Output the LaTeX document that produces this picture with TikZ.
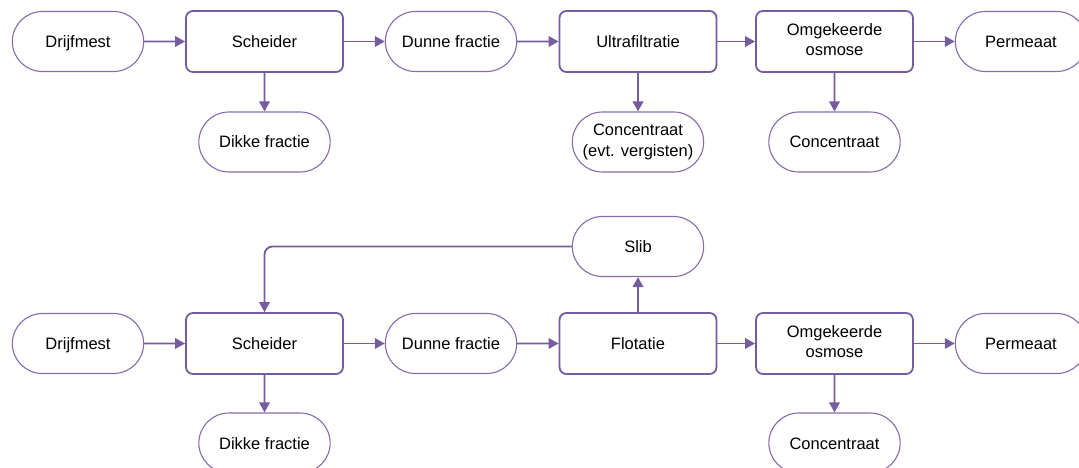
\documentclass[tikz,border=0pt]{standalone}
\usepackage{fontspec}
\setmainfont{Liberation Sans}
\usetikzlibrary{arrows.meta,shapes.misc}
\definecolor{mpurple}{RGB}{118,92,158}
\definecolor{mpurpleL}{RGB}{132,108,172}
\newcommand{\mfont}{\fontsize{16.5}{20.5}\selectfont}
\tikzset{
  mtext/.style={align=center,font=\mfont,execute at begin node={\rule{0pt}{15.5pt}},execute at end node={\rule[-3.5pt]{0pt}{3.5pt}}},
  mstep/.style={mtext,draw=mpurple,line width=1.8pt,rounded corners=7pt,minimum width=157pt,minimum height=61pt},
  mend/.style={mtext,draw=mpurpleL,line width=1.1pt,rounded rectangle,minimum width=138pt,minimum height=60pt},
  mflow/.style={draw=mpurple,line width=1.9pt,-{Triangle[length=10pt,width=10.5pt]}},
}

\begin{document}
\begin{tikzpicture}[x=1pt,y=-1pt]
\useasboundingbox (0,0) rectangle (1079,468);
% top line: ultrafiltratie
\node[mend] (dm1) at (78,41.5) {Drijfmest};
\node[mstep] (sc1) at (264.5,41.5) {Scheider};
\node[mend] (df1) at (451,41.5) {Dunne fractie};
\node[mstep] (uf1) at (638,41.5) {Ultrafiltratie};
\node[mstep] (ro1) at (834.5,41.5) {Omgekeerde\\osmose};
\node[mend] (pm1) at (1021,41.5) {Permeaat};
\node[mend] (dk1) at (264.5,142) {Dikke fractie};
\node[mend] (cu1) at (638,142) {Concentraat\\(evt. vergisten)};
\node[mend] (cr1) at (834.5,142) {Concentraat};
\foreach \a/\b in {dm1/sc1,sc1/df1,df1/uf1,uf1/ro1,ro1/pm1,sc1/dk1,uf1/cu1,ro1/cr1}
  \draw[mflow] (\a) -- (\b);
% bottom line: flotatie, slib goes back to the scheider
\node[mend] (dm2) at (78,343.5) {Drijfmest};
\node[mstep] (sc2) at (264.5,343.5) {Scheider};
\node[mend] (df2) at (451,343.5) {Dunne fractie};
\node[mstep] (fl2) at (638,343.5) {Flotatie};
\node[mstep] (ro2) at (834.5,343.5) {Omgekeerde\\osmose};
\node[mend] (pm2) at (1021,343.5) {Permeaat};
\node[mend] (sl2) at (638,246.5) {Slib};
\node[mend] (dk2) at (264.5,443) {Dikke fractie};
\node[mend] (cr2) at (834.5,443) {Concentraat};
\foreach \a/\b in {dm2/sc2,sc2/df2,df2/fl2,fl2/ro2,ro2/pm2,sc2/dk2,fl2/sl2,ro2/cr2}
  \draw[mflow] (\a) -- (\b);
\draw[mflow,rounded corners=8pt] (sl2.west) -| (sc2.north);
\end{tikzpicture}
\end{document}
